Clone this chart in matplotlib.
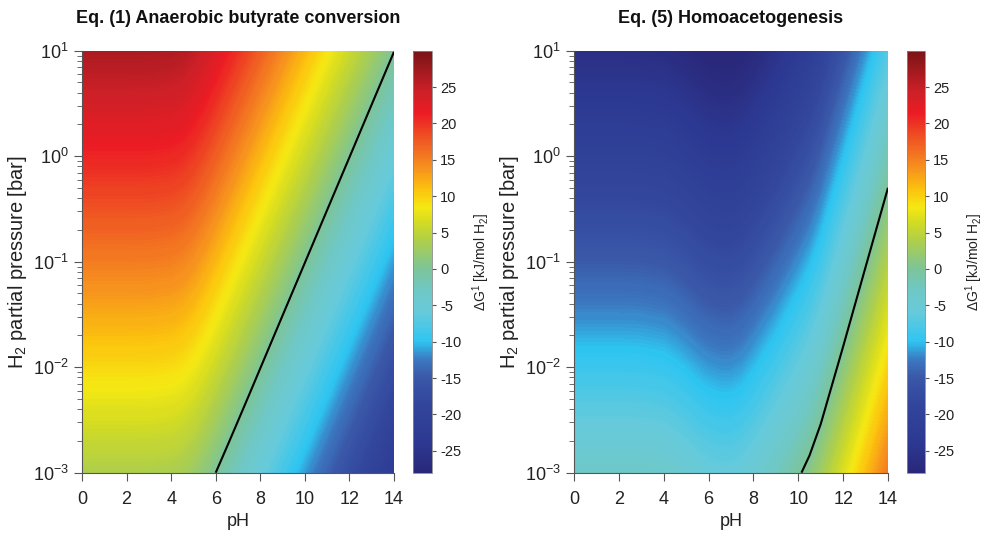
import numpy as np
import matplotlib
matplotlib.use("Agg")
import matplotlib.pyplot as plt
from matplotlib.colors import LinearSegmentedColormap, Normalize
from matplotlib.cm import ScalarMappable

plt.rcParams['font.family'] = ['Liberation Sans', 'DejaVu Sans']
plt.rcParams['mathtext.fontset'] = 'custom'
plt.rcParams['mathtext.rm'] = 'Liberation Sans'
plt.rcParams['mathtext.it'] = 'Liberation Sans:italic'
plt.rcParams['mathtext.bf'] = 'Liberation Sans:bold'
plt.rcParams['axes.unicode_minus'] = False

# ---- data ----
ph = [0, 1, 2, 3, 4, 4.5, 5, 5.5, 6, 6.5, 7, 7.5, 8, 9, 10, 10.5, 11, 12, 13, 14]
pressure = [1e-3, 1e-2, 1e-1, 1e0, 1e1]

# ΔG of Eq. (1), rows follow `pressure`, columns follow `ph`
dg_butyrate = [
    [3.77, 3.77, 3.77, 3.75, 3.55, 3.17, 2.42, 1.31, 0.00, -1.39, -2.80, -4.22, -5.65, -8.51, -11.36, -12.79, -14.22, -17.07, -19.93, -22.78],
    [9.48, 9.48, 9.48, 9.46, 9.26, 8.88, 8.13, 7.02, 5.71, 4.32, 2.91, 1.49, 0.06, -2.80, -5.65, -7.08, -8.51, -11.36, -14.22, -17.07],
    [15.19, 15.19, 15.19, 15.17, 14.97, 14.59, 13.84, 12.73, 11.42, 10.03, 8.62, 7.20, 5.77, 2.91, 0.06, -1.37, -2.80, -5.65, -8.51, -11.36],
    [20.90, 20.90, 20.90, 20.88, 20.68, 20.30, 19.55, 18.44, 17.13, 15.74, 14.33, 12.91, 11.48, 8.62, 5.77, 4.34, 2.91, 0.06, -2.80, -5.65],
    [26.61, 26.61, 26.61, 26.59, 26.39, 26.01, 25.26, 24.15, 22.84, 21.45, 20.04, 18.62, 17.19, 14.33, 11.48, 10.05, 8.62, 5.77, 2.91, 0.06],
]

# ΔG of Eq. (5)
dg_homoaceto = [
    [-3.37, -3.37, -3.37, -3.42, -3.67, -4.07, -4.57, -5.17, -5.62, -5.87, -5.87, -5.47, -4.67, -2.67, -0.37, 0.93, 2.63, 6.83, 11.13, 15.42],
    [-9.08, -9.08, -9.08, -9.13, -9.38, -9.78, -10.28, -10.88, -11.33, -11.58, -11.58, -11.18, -10.38, -8.38, -6.08, -4.78, -3.08, 1.12, 5.42, 9.71],
    [-14.79, -14.79, -14.79, -14.84, -15.09, -15.49, -15.99, -16.59, -17.04, -17.29, -17.29, -16.89, -16.09, -14.09, -11.79, -10.49, -8.79, -4.59, -0.29, 4.00],
    [-20.50, -20.50, -20.50, -20.55, -20.80, -21.20, -21.70, -22.30, -22.75, -23.00, -23.00, -22.60, -21.80, -19.80, -17.50, -16.20, -14.50, -10.30, -6.00, -1.71],
    [-26.21, -26.21, -26.21, -26.26, -26.51, -26.91, -27.41, -28.01, -28.46, -28.71, -28.71, -28.31, -27.51, -25.51, -23.21, -21.91, -20.21, -16.01, -11.71, -7.42],
]

titles = ['Eq. (1) Anaerobic butyrate conversion', 'Eq. (5) Homoacetogenesis']
cbar_ticks = [-25, -20, -15, -10, -5, 0, 5, 10, 15, 20, 25]
ph_ticks = [0, 2, 4, 6, 8, 10, 12, 14]
decades = [-3, -2, -1, 0, 1]
vmin, vmax = -28, 30

# colormap as in the colorbar
anchors = [
    (-28, '#29287a'), (-24, '#2c3891'), (-18.5, '#32469c'), (-15, '#3a57a8'),
    (-12.5, '#3b78c0'), (-10, '#2ec5f1'), (-6, '#66cadb'), (-3, '#6fc8c6'),
    (0, '#7cc49a'), (4, '#b0cf48'), (6.5, '#d4dc22'), (8.5, '#f5e813'),
    (11, '#fcc20e'), (14, '#f6901e'), (18, '#ef5423'), (21.5, '#ec1c24'),
    (24.5, '#cc2027'), (30, '#7a1416'),
]
cmap = LinearSegmentedColormap.from_list(
    'dg', [((v - vmin) / (vmax - vmin), c) for v, c in anchors])
norm = Normalize(vmin=vmin, vmax=vmax)
levels = np.linspace(vmin, vmax, 291)

W, H = 987, 535
fig = plt.figure(figsize=(W / 100, H / 100), dpi=100)

axes_px = [(82, 394), (574, 888)]
cax_px = [(413, 432), (907, 925)]
top_px, bot_px = 50.7, 472.7
grey = '#555555'
txt = '#222222'

logp = np.log10(pressure)
minor = [d + np.log10(m) for d in decades[:-1] for m in range(2, 10)]

for i, Z in enumerate([dg_butyrate, dg_homoaceto]):
    x0, x1 = axes_px[i]
    ax = fig.add_axes([x0 / W, 1 - bot_px / H, (x1 - x0) / W, (bot_px - top_px) / H])
    Zarr = np.array(Z)
    cs = ax.contourf(ph, logp, Zarr, levels=levels, cmap=cmap, norm=norm, extend='both')
    cs.set_edgecolor('face')
    cs.set_linewidth(0.4)
    ax.contour(ph, logp, Zarr, levels=[0], colors='k', linewidths=1.5)
    ax.set_xlim(0, 14)
    ax.set_ylim(-3, 1)
    ax.set_xticks(ph_ticks)
    ax.set_yticks(decades)
    ax.set_yticks(minor, minor=True)
    ax.set_yticklabels([r'10$^{%d}$' % d for d in decades])
    for s in ['top', 'right']:
        ax.spines[s].set_visible(False)
    for s in ['left', 'bottom']:
        ax.spines[s].set_color(grey)
        ax.spines[s].set_linewidth(0.8)
        ax.spines[s].set_zorder(5)
    ax.tick_params(which='both', direction='out', colors=grey, labelcolor=txt, labelsize=13)
    ax.tick_params(which='major', length=6)
    ax.tick_params(axis='x', which='major', pad=7)
    ax.tick_params(which='minor', length=3.5)
    ax.set_xlabel('pH', fontsize=13, color=txt, labelpad=4)
    ax.set_ylabel(r'H$_2$ partial pressure [bar]', fontsize=14.5, color=txt, labelpad=3)
    ax.set_title(titles[i], fontsize=13, fontweight='bold', pad=20, color='#111111')

    c0, c1 = cax_px[i]
    cax = fig.add_axes([c0 / W, 1 - bot_px / H, (c1 - c0) / W, (bot_px - top_px) / H])
    sm = ScalarMappable(norm=norm, cmap=cmap)
    cb = fig.colorbar(sm, cax=cax, ticks=cbar_ticks)
    cb.outline.set_edgecolor('#888888')
    cb.outline.set_linewidth(0.6)
    cax.tick_params(direction='out', length=3, colors=grey, labelcolor=txt, labelsize=10.5, pad=3)
    cb.set_label(r'$\Delta$G$^1$ [kJ/mol H$_2$]', fontsize=10, color=txt, labelpad=6)

fig.savefig('out.png', dpi=100)
